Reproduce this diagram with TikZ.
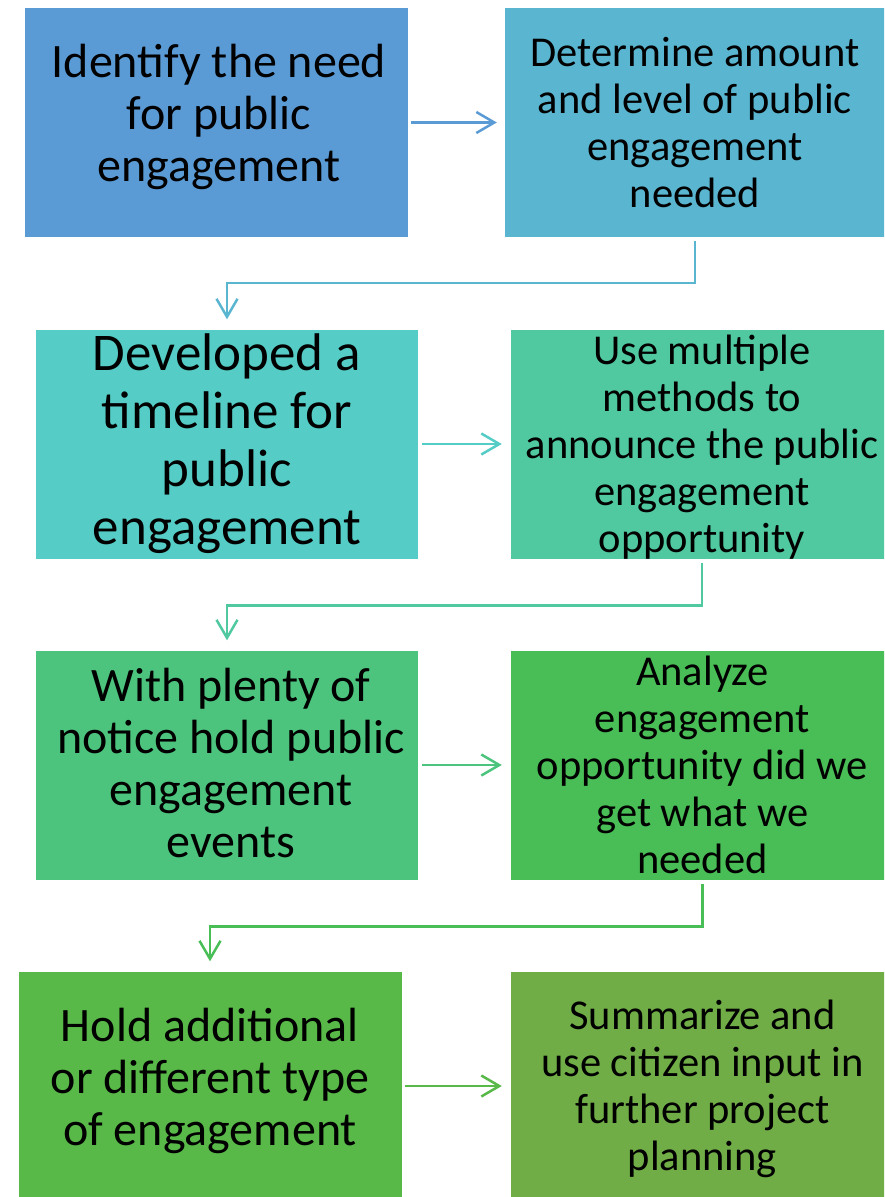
\documentclass[tikz,border=0pt]{standalone}
\usepackage{fontspec}
\setmainfont{Carlito}
\usetikzlibrary{arrows.meta}
\definecolor{cA}{HTML}{5B9BD5}
\definecolor{cB}{HTML}{5AB6D0}
\definecolor{cC}{HTML}{55CDC6}
\definecolor{cD}{HTML}{50C8A0}
\definecolor{cE}{HTML}{4CC47D}
\definecolor{cF}{HTML}{4ABE56}
\definecolor{cG}{HTML}{58B848}
\definecolor{cH}{HTML}{70AD47}
\tikzset{
  stepbox/.style={rectangle, inner sep=0pt, minimum width=383pt, minimum height=229pt, text=black},
  label/.style={align=center, text=black, inner sep=0pt},
  big/.style={font=\fontsize{48}{52}\selectfont},
  huge/.style={font=\fontsize{53}{58}\selectfont},
  small/.style={font=\fontsize{42.5}{47}\selectfont},
  flow/.style={line width=2.5pt, -{Straight Barb[length=18pt,width=21pt,line width=2.5pt]}},
}
\begin{document}
\begin{tikzpicture}[x=1pt,y=-1pt]
\useasboundingbox (0,0) rectangle (884,1197);
\begin{scope}
\clip (0,0) rectangle (884,1197);
% the eight process steps
\node[stepbox, fill=cA] (s1) at (216,122.5) {};
\node[stepbox, fill=cB, minimum width=380pt] (s2) at (695,122.5) {};
\node[stepbox, fill=cC, minimum width=382pt] (s3) at (227,444) {};
\node[stepbox, fill=cD, minimum width=382pt] (s4) at (702,444) {};
\node[stepbox, fill=cE, minimum width=382pt] (s5) at (227,765) {};
\node[stepbox, fill=cF] (s6) at (702.5,765) {};
\node[stepbox, fill=cG] (s7) at (210,1086) {};
\node[stepbox, fill=cH] (s8) at (702.5,1086) {};
% their texts (yshift is in page points: positive moves up)
\node[label, big]   (t1) at ([xshift=3pt,yshift=6pt]s1.center) {Identify the need\\for public\\engagement};
\node[label, small] (t2) at (s2.center) {Determine amount\\and level of public\\engagement\\needed};
\node[label, huge]  (t3) at (s3.center) {Developed a\\timeline for\\public\\engagement};
\node[label, small] (t4) at ([yshift=-3pt]s4.center) {Use multiple\\methods to\\announce the public\\engagement\\opportunity};
\node[label, big]   (t5) at ([xshift=4pt,yshift=2pt]s5.center) {With plenty of\\notice hold public\\engagement\\events};
\node[label, small] (t6) at (s6.center) {Analyze\\engagement\\opportunity did we\\get what we\\needed};
\node[label, big]   (t7) at ([yshift=5pt]s7.center) {Hold additional\\or different type\\of engagement};
\node[label, small] (t8) at ([yshift=-3pt]s8.center) {Summarize and\\use citizen input in\\further project\\planning};
\end{scope}
% connectors
\draw[flow, cA, shorten <=3pt, shorten >=8pt] (s1.east) -- (s2.west);
\draw[flow, cB, shorten <=4pt, shorten >=10pt] (s2.south) -- ++(0,46) -| (s3.north);
\draw[flow, cC, shorten <=4pt, shorten >=9pt] (s3.east) -- (s4.west);
\draw[flow, cD, shorten <=4pt, shorten >=10pt] (s4.south) -- ++(0,47) -| (s5.north);
\draw[flow, cE, shorten <=4pt, shorten >=9pt] (s5.east) -- (s6.west);
\draw[flow, cF, shorten <=4pt, shorten >=10pt] (s6.south) -- ++(0,47) -| (s7.north);
\draw[flow, cG, shorten <=3pt, shorten >=9pt] (s7.east) -- (s8.west);
\end{tikzpicture}
\end{document}
